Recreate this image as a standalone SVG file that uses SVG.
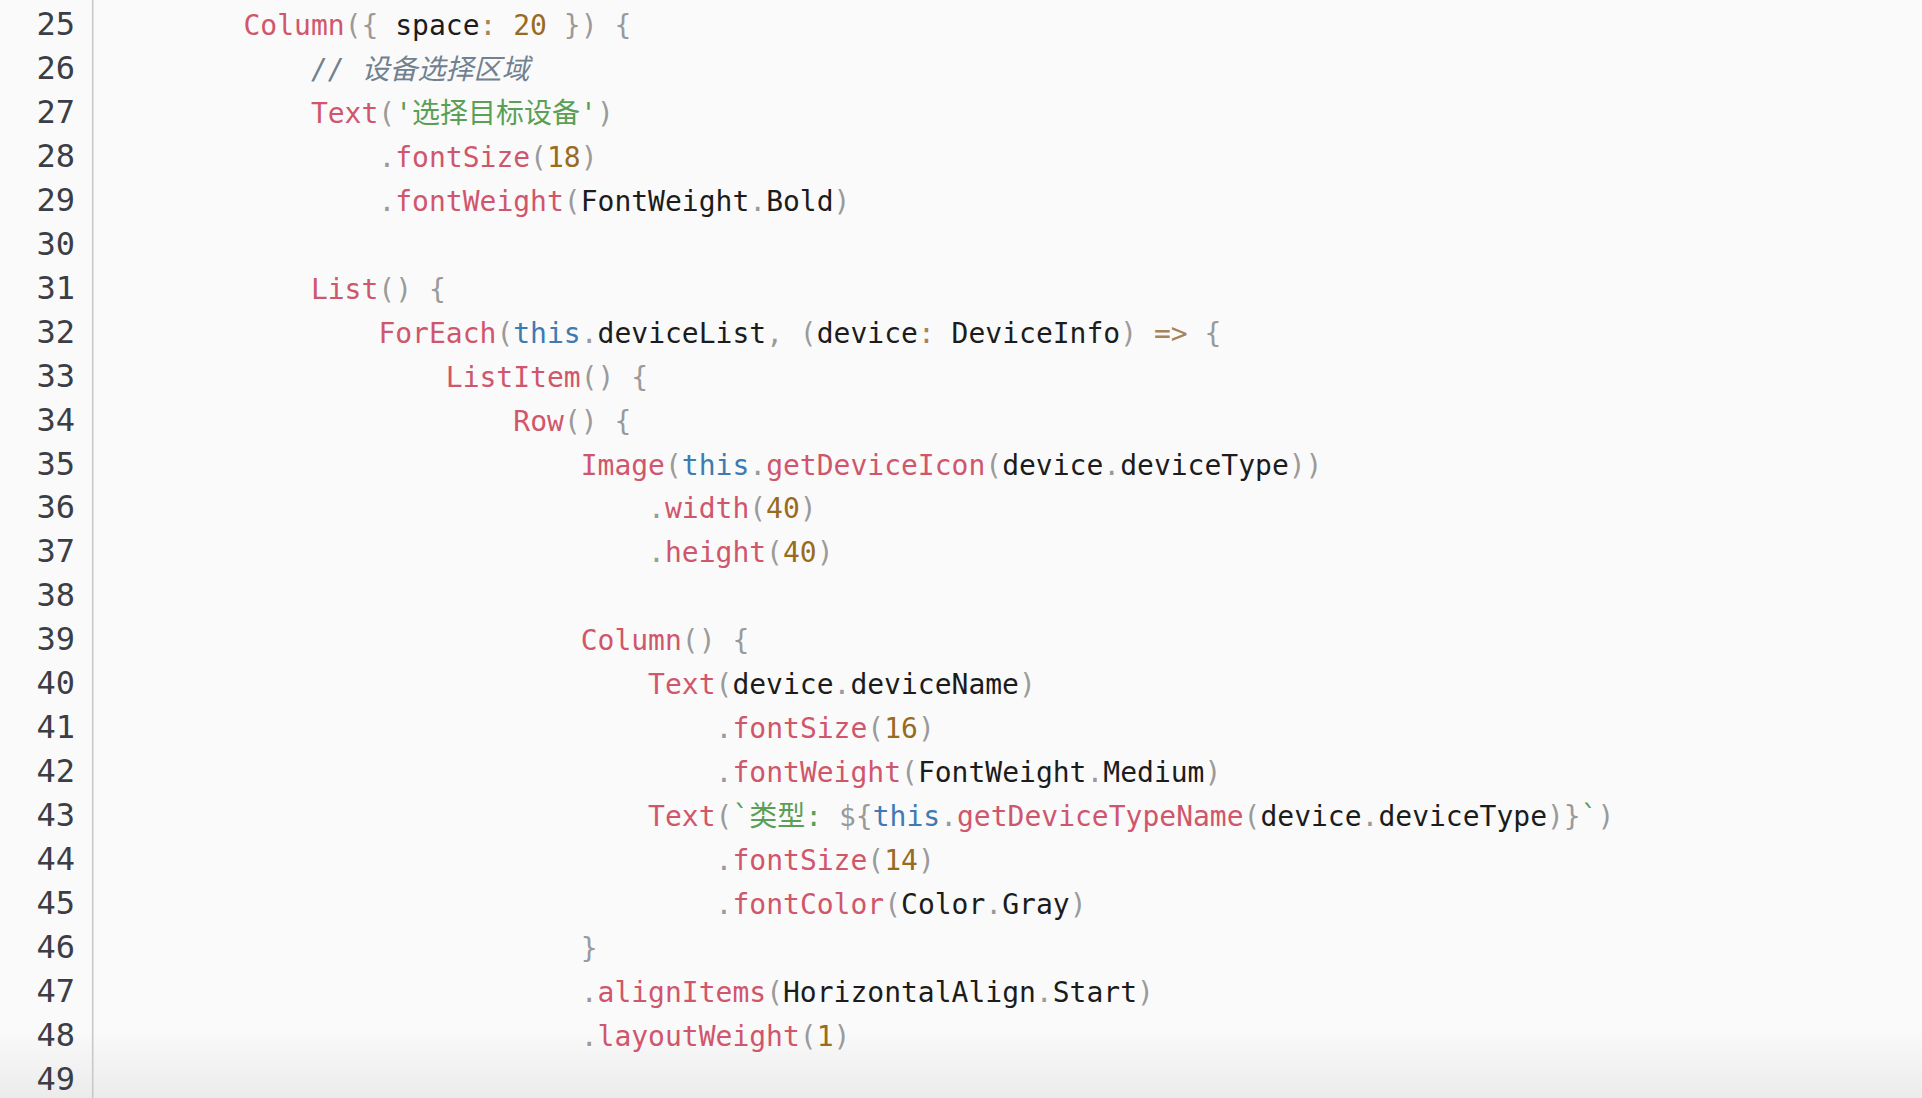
<svg xmlns="http://www.w3.org/2000/svg" width="1922" height="1098" viewBox="0 0 1922 1098">
<defs>
<linearGradient id="fade" x1="0" y1="0" x2="0" y2="1">
<stop offset="0" stop-color="#ececec" stop-opacity="0"/>
<stop offset="1" stop-color="#ebebeb" stop-opacity="1"/>
</linearGradient>
</defs>
<style>
text{font-family:'DejaVu Sans Mono','Noto Sans CJK SC',monospace;font-size:28px;white-space:pre}
.ln{font-size:32px;fill:#3b3e46;text-anchor:end}
.k{fill:#d0566c}
.p{fill:#9a9a9a}
.i{fill:#1c1c1c}
.n{fill:#986b1f}
.o{fill:#a8825a}
.s{fill:#5b9f56}
.t{fill:#3d7bb2}
.c{fill:#718190;font-style:italic}
</style>
<rect id="background" x="0" y="0" width="1922" height="1098" fill="#fafafa"/>
<rect id="bottom-fade" x="0" y="1028" width="1922" height="70" fill="url(#fade)"/>
<line id="gutter-line" x1="92.7" y1="0" x2="92.7" y2="1098" stroke="#c8c8c8" stroke-width="1.6"/>
<g id="line-numbers">
<text class="ln" x="75" y="35">25</text>
<text class="ln" x="75" y="78.95">26</text>
<text class="ln" x="75" y="122.9">27</text>
<text class="ln" x="75" y="166.85">28</text>
<text class="ln" x="75" y="210.8">29</text>
<text class="ln" x="75" y="254.75">30</text>
<text class="ln" x="75" y="298.7">31</text>
<text class="ln" x="75" y="342.65">32</text>
<text class="ln" x="75" y="386.6">33</text>
<text class="ln" x="75" y="430.55">34</text>
<text class="ln" x="75" y="474.5">35</text>
<text class="ln" x="75" y="518.45">36</text>
<text class="ln" x="75" y="562.4">37</text>
<text class="ln" x="75" y="606.35">38</text>
<text class="ln" x="75" y="650.3">39</text>
<text class="ln" x="75" y="694.25">40</text>
<text class="ln" x="75" y="738.2">41</text>
<text class="ln" x="75" y="782.15">42</text>
<text class="ln" x="75" y="826.1">43</text>
<text class="ln" x="75" y="870.05">44</text>
<text class="ln" x="75" y="914">45</text>
<text class="ln" x="75" y="957.95">46</text>
<text class="ln" x="75" y="1001.9">47</text>
<text class="ln" x="75" y="1045.85">48</text>
<text class="ln" x="75" y="1089.8">49</text>
</g>
<g id="code">
<text xml:space="preserve" x="243.5" y="35"><tspan class="k">Column</tspan><tspan class="p">({ </tspan><tspan class="i">space</tspan><tspan class="o">: </tspan><tspan class="n">20</tspan><tspan class="p"> }) {</tspan></text>
<text xml:space="preserve" x="310.9" y="78.95" class="c">// 设备选择区域</text>
<text xml:space="preserve" x="310.9" y="122.9"><tspan class="k">Text</tspan><tspan class="p">(</tspan><tspan class="s">'选择目标设备'</tspan><tspan class="p">)</tspan></text>
<text xml:space="preserve" x="378.4" y="166.85"><tspan class="p">.</tspan><tspan class="k">fontSize</tspan><tspan class="p">(</tspan><tspan class="n">18</tspan><tspan class="p">)</tspan></text>
<text xml:space="preserve" x="378.4" y="210.8"><tspan class="p">.</tspan><tspan class="k">fontWeight</tspan><tspan class="p">(</tspan><tspan class="i">FontWeight</tspan><tspan class="p">.</tspan><tspan class="i">Bold</tspan><tspan class="p">)</tspan></text>
<text xml:space="preserve" x="310.9" y="298.7"><tspan class="k">List</tspan><tspan class="p">() {</tspan></text>
<text xml:space="preserve" x="378.4" y="342.65"><tspan class="k">ForEach</tspan><tspan class="p">(</tspan><tspan class="t">this</tspan><tspan class="p">.</tspan><tspan class="i">deviceList</tspan><tspan class="p">, (</tspan><tspan class="i">device</tspan><tspan class="o">: </tspan><tspan class="i">DeviceInfo</tspan><tspan class="p">) </tspan><tspan class="o">=&gt;</tspan><tspan class="p"> {</tspan></text>
<text xml:space="preserve" x="445.8" y="386.6"><tspan class="k">ListItem</tspan><tspan class="p">() {</tspan></text>
<text xml:space="preserve" x="513.3" y="430.55"><tspan class="k">Row</tspan><tspan class="p">() {</tspan></text>
<text xml:space="preserve" x="580.7" y="474.5"><tspan class="k">Image</tspan><tspan class="p">(</tspan><tspan class="t">this</tspan><tspan class="p">.</tspan><tspan class="k">getDeviceIcon</tspan><tspan class="p">(</tspan><tspan class="i">device</tspan><tspan class="p">.</tspan><tspan class="i">deviceType</tspan><tspan class="p">))</tspan></text>
<text xml:space="preserve" x="648.1" y="518.45"><tspan class="p">.</tspan><tspan class="k">width</tspan><tspan class="p">(</tspan><tspan class="n">40</tspan><tspan class="p">)</tspan></text>
<text xml:space="preserve" x="648.1" y="562.4"><tspan class="p">.</tspan><tspan class="k">height</tspan><tspan class="p">(</tspan><tspan class="n">40</tspan><tspan class="p">)</tspan></text>
<text xml:space="preserve" x="580.7" y="650.3"><tspan class="k">Column</tspan><tspan class="p">() {</tspan></text>
<text xml:space="preserve" x="648.1" y="694.25"><tspan class="k">Text</tspan><tspan class="p">(</tspan><tspan class="i">device</tspan><tspan class="p">.</tspan><tspan class="i">deviceName</tspan><tspan class="p">)</tspan></text>
<text xml:space="preserve" x="715.6" y="738.2"><tspan class="p">.</tspan><tspan class="k">fontSize</tspan><tspan class="p">(</tspan><tspan class="n">16</tspan><tspan class="p">)</tspan></text>
<text xml:space="preserve" x="715.6" y="782.15"><tspan class="p">.</tspan><tspan class="k">fontWeight</tspan><tspan class="p">(</tspan><tspan class="i">FontWeight</tspan><tspan class="p">.</tspan><tspan class="i">Medium</tspan><tspan class="p">)</tspan></text>
<text xml:space="preserve" x="648.1" y="826.1"><tspan class="k">Text</tspan><tspan class="p">(</tspan><tspan class="s">`类型: </tspan><tspan class="p">${</tspan><tspan class="t">this</tspan><tspan class="p">.</tspan><tspan class="k">getDeviceTypeName</tspan><tspan class="p">(</tspan><tspan class="i">device</tspan><tspan class="p">.</tspan><tspan class="i">deviceType</tspan><tspan class="p">)}</tspan><tspan class="s">`</tspan><tspan class="p">)</tspan></text>
<text xml:space="preserve" x="715.6" y="870.05"><tspan class="p">.</tspan><tspan class="k">fontSize</tspan><tspan class="p">(</tspan><tspan class="n">14</tspan><tspan class="p">)</tspan></text>
<text xml:space="preserve" x="715.6" y="914"><tspan class="p">.</tspan><tspan class="k">fontColor</tspan><tspan class="p">(</tspan><tspan class="i">Color</tspan><tspan class="p">.</tspan><tspan class="i">Gray</tspan><tspan class="p">)</tspan></text>
<text xml:space="preserve" x="580.7" y="957.95" class="p">}</text>
<text xml:space="preserve" x="580.7" y="1001.9"><tspan class="p">.</tspan><tspan class="k">alignItems</tspan><tspan class="p">(</tspan><tspan class="i">HorizontalAlign</tspan><tspan class="p">.</tspan><tspan class="i">Start</tspan><tspan class="p">)</tspan></text>
<text xml:space="preserve" x="580.7" y="1045.85"><tspan class="p">.</tspan><tspan class="k">layoutWeight</tspan><tspan class="p">(</tspan><tspan class="n">1</tspan><tspan class="p">)</tspan></text>
</g>
</svg>
